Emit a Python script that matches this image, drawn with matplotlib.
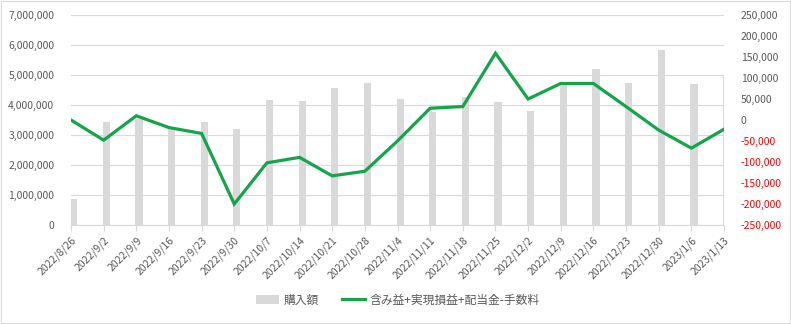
import matplotlib
matplotlib.use("Agg")
import matplotlib.pyplot as plt
from matplotlib.patches import Rectangle
from matplotlib.lines import Line2D
from matplotlib.patches import Patch
import numpy as np

plt.rcParams['font.family'] = ['Noto Sans CJK JP', 'DejaVu Sans']

dates = ["2022/8/26", "2022/9/2", "2022/9/9", "2022/9/16", "2022/9/23", "2022/9/30",
         "2022/10/7", "2022/10/14", "2022/10/21", "2022/10/28", "2022/11/4", "2022/11/11",
         "2022/11/18", "2022/11/25", "2022/12/2", "2022/12/9", "2022/12/16", "2022/12/23",
         "2022/12/30", "2023/1/6", "2023/1/13"]
purchase = [860000, 3420000, 3520000, 3280000, 3420000, 3190000, 4170000, 4130000, 4560000,
            4720000, 4200000, 3760000, 4260000, 4090000, 3800000, 4700000, 5190000, 4720000,
            5820000, 4690000, 4990000]
profit = [0, -48000, 10000, -18000, -32000, -200000, -102000, -89000, -133000, -122000,
          -50000, 28000, 32000, 159000, 50000, 87000, 87000, 32000, -24000, -67000, -22000]
left_ticks = [0, 1000000, 2000000, 3000000, 4000000, 5000000, 6000000, 7000000]
right_ticks = [-250000, -200000, -150000, -100000, -50000, 0, 50000, 100000, 150000, 200000, 250000]
bar_name = "購入額"
line_name = "含み益+実現損益+配当金-手数料"

GRAY_TXT = "#595959"
BAR_C = "#D9D9D9"
LINE_C = "#14A44B"

fig = plt.figure(figsize=(7.91, 3.24), dpi=100)
fig.patches.append(Rectangle((0.0015, 0.003), 0.997, 0.994, transform=fig.transFigure,
                             fill=False, edgecolor="#D9D9D9", linewidth=0.8))

ax = fig.add_axes([71/791, 1-225/324, (724-71)/791, (225-15)/324])
x = np.arange(len(dates))
ax.bar(x + 0.08, purchase, width=0.22, color=BAR_C, zorder=2)
ax.set_ylim(0, 7000000)
ax.set_xlim(0, len(dates) - 1)
ax.set_yticks(left_ticks)
ax.set_yticklabels([f"{v:,}" for v in left_ticks], color=GRAY_TXT, fontsize=7.5)
ax.yaxis.grid(True, color="#D9D9D9", linewidth=0.8, zorder=0)
ax.set_axisbelow(True)
ax.tick_params(axis='y', length=0, pad=12)
ax.set_xticks(x)
ax.set_xticklabels(dates, rotation=45, ha='right', rotation_mode='anchor',
                   color=GRAY_TXT, fontsize=7.5)
ax.tick_params(axis='x', length=4, color="#D9D9D9", pad=3)
for s in ['top', 'left', 'right']:
    ax.spines[s].set_visible(False)
ax.spines['bottom'].set_color("#D9D9D9")

ax2 = ax.twinx()
ax2.plot(x, profit, color=LINE_C, linewidth=2.3, zorder=3, solid_joinstyle='miter')
ax2.set_ylim(-250000, 250000)
ax2.set_yticks(right_ticks)
ax2.set_yticklabels([f"{v:,}" for v in right_ticks], fontsize=7.5)
for lab, v in zip(ax2.get_yticklabels(), right_ticks):
    lab.set_color("#FF0000" if v < 0 else GRAY_TXT)
ax2.tick_params(axis='y', length=0, pad=12)
for s in ['top', 'left', 'right', 'bottom']:
    ax2.spines[s].set_visible(False)
ax2.set_xlim(0, len(dates) - 1)

handles = [Patch(facecolor=BAR_C, edgecolor='none'),
           Line2D([0], [0], color=LINE_C, linewidth=2.3)]
fig.legend(handles, [bar_name, line_name], loc='center', bbox_to_anchor=(0.503, 0.074),
           ncol=2, frameon=False, fontsize=8.5, labelcolor=GRAY_TXT,
           handlelength=2.0, handleheight=0.85, handletextpad=0.4, columnspacing=1.9)

fig.savefig("out.png", dpi=100)
